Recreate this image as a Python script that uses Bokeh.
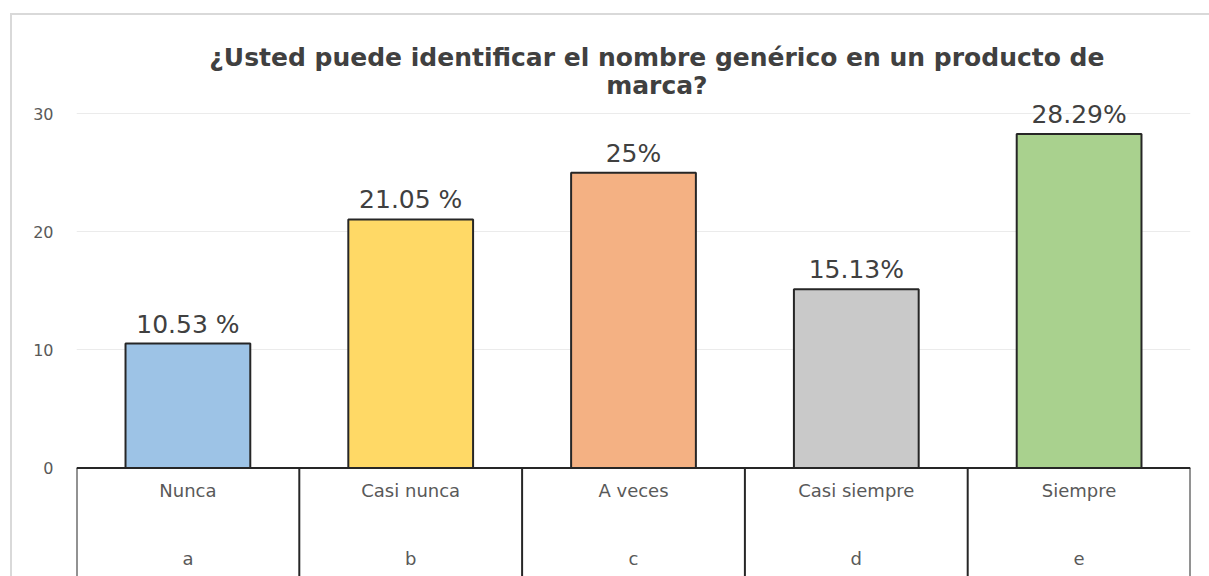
from bokeh.plotting import figure
from bokeh.models import ColumnDataSource, FixedTicker, Range1d
from bokeh.core.properties import value
from bokeh.embed import file_html
from bokeh.resources import INLINE

# ---- data ----
categories = ["Nunca", "Casi nunca", "A veces", "Casi siempre", "Siempre"]
letters = ["a", "b", "c", "d", "e"]
values = [10.53, 21.05, 25.0, 15.13, 28.29]
value_labels = ["10.53 %", "21.05 %", "25%", "15.13%", "28.29%"]
colors = ["#9DC3E6", "#FFD966", "#F4B183", "#C9C9C9", "#A9D18E"]
y_ticks = [0, 10, 20, 30]
title_lines = ["¿Usted puede identificar el nombre genérico en un producto de", "marca?"]

xs = list(range(len(categories)))
src = ColumnDataSource(dict(x=xs, top=values, color=colors, label=value_labels,
                            cat=categories, letter=letters))

W, H = 1209, 576
Y0, Y1 = -9.2, 39.6
border_css = ("linear-gradient(#d9d9d9,#d9d9d9) 10px 13px / 2px 100% no-repeat, "
              "linear-gradient(#d9d9d9,#d9d9d9) 10px 13px / 100% 2px no-repeat, white")
p = figure(width=W, height=H, output_backend="svg", toolbar_location=None,
           x_range=Range1d(-0.5, 4.5), y_range=Range1d(Y0, Y1),
           x_axis_type=None, min_border_left=76, min_border_right=19,
           min_border_top=0, min_border_bottom=0,
           styles={"background": border_css})
p.outline_line_color = None
p.background_fill_color = None
p.border_fill_color = None

# y axis
p.yaxis.ticker = FixedTicker(ticks=y_ticks)
p.yaxis.axis_line_color = None
p.yaxis.major_tick_line_color = None
p.yaxis.minor_tick_line_color = None
p.yaxis.major_tick_out = 0
p.yaxis.major_label_standoff = 23
p.yaxis.major_label_text_font = "DejaVu Sans"
p.yaxis.major_label_text_font_size = "16px"
p.yaxis.major_label_text_color = "#595959"
p.ygrid.grid_line_color = "#ebebeb"
p.ygrid.grid_line_width = 1
p.xgrid.grid_line_color = None

# bars
p.vbar(x="x", top="top", bottom=0, width=0.56, source=src, fill_color="color",
       line_color="#262626", line_width=2)

# value labels
p.text(x="x", y="top", text="label", source=src, text_align="center",
       text_baseline="bottom", y_offset=-5, text_font=value("DejaVu Sans"),
       text_font_size="25px", text_color="#404040")

# category table (axis area)
n = len(categories)
edges = [i - 0.5 for i in range(n + 1)]
p.segment(x0=[-0.5], y0=[0], x1=[n - 0.5], y1=[0], line_color="#262626", line_width=2)
p.segment(x0=edges, y0=[0] * len(edges), x1=edges, y1=[Y0] * len(edges),
          line_color="#262626", line_width=2)
p.text(x="x", y=-1.95, text="cat", source=src, text_align="center",
       text_baseline="middle", text_font=value("DejaVu Sans"),
       text_font_size="18px", text_color="#595959")
p.text(x="x", y=-7.7, text="letter", source=src, text_align="center",
       text_baseline="middle", text_font=value("DejaVu Sans"),
       text_font_size="18px", text_color="#595959")

# title
p.text(x=[2.105, 2.105], y=[34.75, 32.4], text=title_lines, text_align="center",
       text_baseline="middle", text_font=value("DejaVu Sans"),
       text_font_style="bold", text_font_size="25px", text_color="#404040")

open("out.html", "w").write(file_html(p, INLINE))
